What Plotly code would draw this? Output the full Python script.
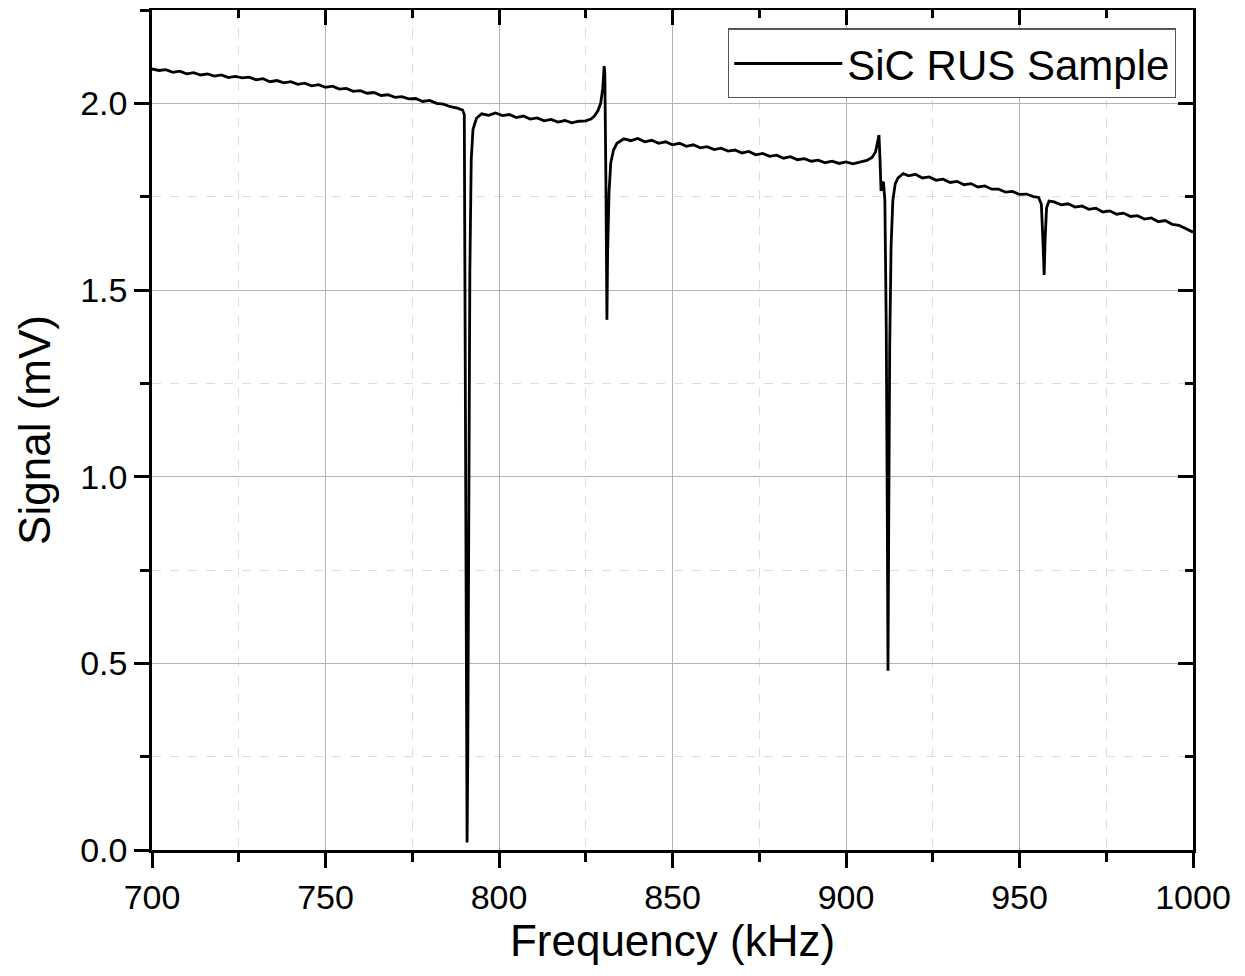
import plotly.graph_objects as go

freq_khz = [
    700, 702, 704, 706, 708, 710, 712, 714, 716, 718, 720, 722, 724, 726, 728, 730,
    732, 734, 736, 738, 740, 742, 744, 746, 748, 750, 752, 754, 756, 758, 760, 762,
    764, 766, 768, 770, 772, 774, 776, 778, 780, 782, 784, 786, 788, 789.5,
    790.0, 790.3, 790.6, 790.8, 791.0, 791.3, 791.6, 792.0, 792.5, 793.5,
    795, 797, 799, 801, 803, 805, 807, 809, 811, 813, 815, 817, 819, 821, 823, 825,
    826.5, 827.5, 828.5, 829.3, 829.9, 830.3, 830.5, 830.8, 831.0, 831.1, 831.3,
    831.7, 832.2, 833, 834, 836, 838, 840, 842, 844, 846, 848, 850, 852, 854, 856,
    858, 860, 862, 864, 866, 868, 870, 872, 874, 876, 878, 880, 882, 884, 886, 888,
    890, 892, 894, 896, 898, 900, 902, 904, 906, 907.5, 908.5, 909.2, 909.5, 909.8,
    910.1, 910.5, 910.8, 911.2, 911.6, 911.9, 912.1, 912.3, 912.6, 913.0, 913.5,
    914.2, 915, 916.5, 918, 920, 922, 924, 926, 928, 930, 932, 934, 936, 938, 940,
    942, 944, 946, 948, 950, 952, 954, 955.5, 956.3, 956.8, 957.1, 957.4, 957.8,
    958.5, 960, 962, 964, 966, 968, 970, 972, 974, 976, 978, 980, 982, 984, 986,
    988, 990, 992, 994, 996, 998, 1000,
]

signal_mv = [
    2.092, 2.088, 2.090, 2.083, 2.086, 2.079, 2.082, 2.076, 2.079, 2.073, 2.076, 2.069,
    2.072, 2.068, 2.070, 2.063, 2.066, 2.058, 2.061, 2.055, 2.058, 2.051, 2.054, 2.047,
    2.050, 2.043, 2.046, 2.038, 2.040, 2.032, 2.034, 2.027, 2.029, 2.021, 2.023, 2.016,
    2.018, 2.012, 2.013, 2.005, 2.008, 2.000, 1.998, 1.991, 1.987, 1.982,
    1.970, 1.200, 0.300, 0.020, 0.250, 1.000, 1.550, 1.850, 1.930, 1.960,
    1.972, 1.968, 1.974, 1.967, 1.970, 1.962, 1.966, 1.958, 1.961, 1.953, 1.957, 1.950,
    1.954, 1.948, 1.952, 1.953,
    1.958, 1.966, 1.980, 2.000, 2.040, 2.100, 2.080, 1.800, 1.450, 1.420, 1.600,
    1.760, 1.840, 1.875, 1.893, 1.905, 1.900, 1.906, 1.897, 1.901, 1.893, 1.897, 1.889,
    1.893, 1.885, 1.889, 1.881, 1.884, 1.876, 1.880, 1.872, 1.875, 1.867, 1.871, 1.862,
    1.866, 1.858, 1.861, 1.853, 1.857, 1.849, 1.852,
    1.845, 1.848, 1.841, 1.845, 1.839, 1.843, 1.838, 1.843, 1.847, 1.855, 1.870, 1.900,
    1.915, 1.850,
    1.765, 1.785, 1.790, 1.740, 1.400, 0.900, 0.480, 0.850, 1.350, 1.620, 1.740,
    1.785, 1.800, 1.812, 1.806, 1.810, 1.800, 1.803, 1.794, 1.797, 1.788, 1.791, 1.782,
    1.785, 1.776, 1.779,
    1.770, 1.770, 1.762, 1.764, 1.756, 1.757, 1.750, 1.748, 1.730, 1.620, 1.540, 1.640,
    1.720,
    1.738, 1.736, 1.728, 1.731, 1.722, 1.725, 1.716, 1.719, 1.709, 1.712, 1.703, 1.706,
    1.697, 1.699, 1.690,
    1.693, 1.683, 1.686, 1.676, 1.673, 1.664, 1.655,
]

x_ticks = [700, 750, 800, 850, 900, 950, 1000]
y_ticks = [0.0, 0.5, 1.0, 1.5, 2.0]
x_range = [700, 1000]
y_range = [0, 2.25]

FONT = "Liberation Sans, Arial, sans-serif"
GRID = "#b4b4b4"
MINOR_GRID = "#dcdcdc"

fig = go.Figure()
fig.add_trace(go.Scatter(
    x=freq_khz, y=signal_mv, mode="lines", name="SiC RUS Sample",
    line=dict(color="black", width=2.8),
))
# helper trace for top/right inside-tick axes
fig.add_trace(go.Scatter(
    x=freq_khz, y=signal_mv, mode="lines", xaxis="x2", yaxis="y2",
    line=dict(color="rgba(0,0,0,0)", width=0), showlegend=False, hoverinfo="skip",
))

common_x = dict(range=x_range, tickvals=x_ticks, linecolor="black", linewidth=2.5,
                tickcolor="black", tickwidth=2.5, ticklen=15)
common_y = dict(range=y_range, tickvals=y_ticks, linecolor="black", linewidth=2.5,
                tickcolor="black", tickwidth=2.5, ticklen=15)

fig.update_layout(
    width=1237, height=968,
    paper_bgcolor="white", plot_bgcolor="white",
    margin=dict(l=144, r=52, t=2, b=126),
    font=dict(family=FONT, color="black"),
    showlegend=True,
    legend=dict(
        x=0.9837, y=0.978, xanchor="right", yanchor="top",
        bgcolor="white", bordercolor="#555555", borderwidth=1.2,
        font=dict(size=42, family=FONT, color="black"),
        itemwidth=108, tracegroupgap=0,
    ),
    xaxis=dict(
        **common_x, showline=True, ticks="outside",
        tickfont=dict(size=34, family=FONT),
        title=dict(text="Frequency (kHz)", font=dict(size=44, family=FONT), standoff=6),
        showgrid=True, gridcolor=GRID, gridwidth=1.2, zeroline=False,
        minor=dict(dtick=25, tick0=700, ticks="outside", ticklen=9, tickwidth=2.5,
                   tickcolor="black", showgrid=True, gridcolor=MINOR_GRID,
                   griddash="dash", gridwidth=1.2),
    ),
    yaxis=dict(
        **common_y, showline=True, ticks="outside",
        tickfont=dict(size=34, family=FONT), tickformat=".1f",
        title=dict(text="Signal (mV)", font=dict(size=44, family=FONT), standoff=16),
        showgrid=True, gridcolor=GRID, gridwidth=1.2, zeroline=False,
        minor=dict(dtick=0.25, tick0=0, ticks="outside", ticklen=9, tickwidth=2.5,
                   tickcolor="black", showgrid=True, gridcolor=MINOR_GRID,
                   griddash="dash", gridwidth=1.2),
    ),
    xaxis2=dict(
        **common_x, overlaying="x", side="top", anchor="y", showline=True,
        ticks="inside", showticklabels=False, showgrid=False, zeroline=False,
        minor=dict(dtick=25, tick0=700, ticks="inside", ticklen=8, tickwidth=2.5,
                   tickcolor="black", showgrid=False),
    ),
    yaxis2=dict(
        **common_y, overlaying="y", side="right", anchor="x", showline=True,
        ticks="inside", showticklabels=False, showgrid=False, zeroline=False,
        minor=dict(dtick=0.25, tick0=0, ticks="inside", ticklen=8, tickwidth=2.5,
                   tickcolor="black", showgrid=False),
    ),
)

fig.write_html("out.html")
